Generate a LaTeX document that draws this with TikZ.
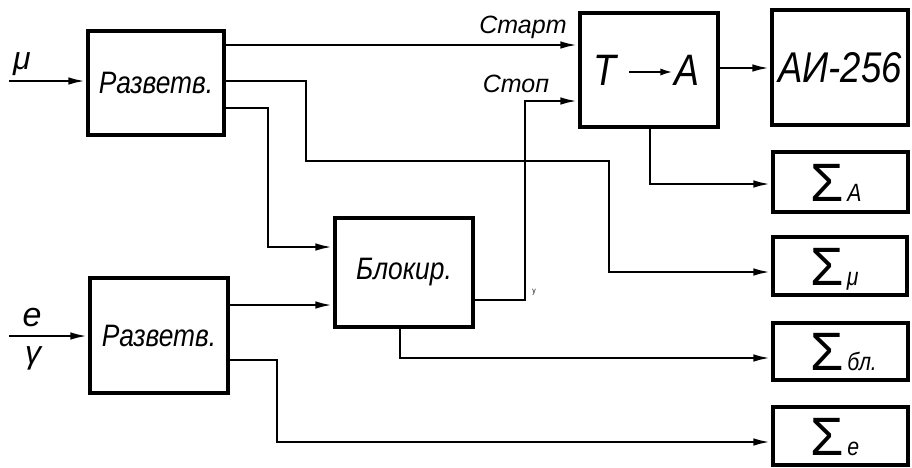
\documentclass[tikz,border=0pt]{standalone}
\usepackage{fontspec}
\setmainfont{Liberation Sans}[FakeStretch=0.85]
\newfontfamily\labelfont{Liberation Sans}
\usetikzlibrary{arrows.meta}

\tikzset{
  blockbox/.style={draw, line width=3.3pt, inner sep=0pt, rectangle,
    minimum width=#1, font=\fontsize{31}{34}\selectfont\itshape},
  wire/.style={line width=2.7pt},
  arr/.style={wire, -{Latex[length=18pt,width=7.5pt]}},
  lbl/.style={inner sep=0pt, font=\labelfont\fontsize{25}{28}\selectfont\itshape},
  sumtxt/.style={inner sep=0pt, font=\labelfont\fontsize{54}{58}\selectfont},
  subtxt/.style={inner sep=0pt, font=\fontsize{25}{28}\selectfont\itshape},
}

\begin{document}
\begin{tikzpicture}[x=1pt,y=-1pt]
\useasboundingbox (0,0) rectangle (912,467);

% functional blocks
\node[blockbox=136pt, minimum height=104pt] (r1) at (156,83) {Разветв.};
\node[blockbox=138pt, minimum height=115pt] (r2) at (159,335.5) {Разветв.};
\node[blockbox=138pt, minimum height=109pt] (blk) at (404,272.5) {Блокир.};
\node[blockbox=138pt, minimum height=114pt] (ta) at (649,70) {};
\node[blockbox=136pt, minimum height=115pt, font=\fontsize{43}{48}\selectfont\itshape] (ai) at (840,67.5) {АИ-256};

% time-to-amplitude converter label
\node[inner sep=0pt, font=\fontsize{44}{48}\selectfont\itshape] (tT) at (605,70) {Т};
\node[inner sep=0pt, font=\fontsize{44}{48}\selectfont\itshape] (tA) at (687,70) {А};
\coordinate (ts) at (629,72);
\draw[wire, -{Latex[length=14pt,width=7pt]}] (ts) -- (tA.west |- ts);

% counters
\node[blockbox=135pt, minimum height=60pt] (sa) at (840.5,182) {};
\node[blockbox=134pt, minimum height=58pt] (smu) at (840,266) {};
\node[blockbox=135pt, minimum height=57pt] (sbl) at (840.5,351.5) {};
\node[blockbox=135pt, minimum height=58pt] (se) at (840.5,436) {};

\foreach \b/\s in {sa/А, smu/μ, sbl/бл., se/e}{
  \node[sumtxt, anchor=base west] (\b S) at ([xshift=-30pt,yshift=-19pt]\b.center) {Σ};
  \node[subtxt, anchor=base west] (\b T) at ([xshift=3pt]\b S.base east) {\s};
}

% inputs
\coordinate (in1) at (9,81);
\coordinate (in2) at (9,336);
\draw[arr] (in1) -- (in1 -| r1.west);
\draw[arr] (in2) -- (in2 -| r2.west);
\node[lbl, font=\labelfont\fontsize{32}{34}\selectfont\itshape] (mu) at (22,64) {μ};
\node[lbl, font=\labelfont\fontsize{34}{36}\selectfont\itshape] (el) at (32,318) {e};
\node[lbl, font=\labelfont\fontsize{32}{34}\selectfont\itshape] (ga) at (33,358) {γ};

% start / stop
\draw[arr] (r1.east |- 0,45) -- (ta.west |- 0,45);
\node[lbl] (start) at (523,27) {Старт};
\draw[arr] (blk.east |- 0,300) -- (525,300) -- (525,101) -- (ta.west |- 0,101);
\node[lbl] (stop) at (516,84) {Стоп};
\node[inner sep=0pt, font=\fontsize{8}{9}\selectfont] (mark) at (534,292) {y};

% branch lines from the first splitter
\draw[arr] (r1.east |- 0,81) -- (306,81) -- (306,161) -- (609,161) -- (609,272) -- (smu.west |- 0,272);
\draw[arr] (r1.east |- 0,108) -- (268,108) -- (268,247) -- (blk.west |- 0,247);

% branch lines from the second splitter
\draw[arr] (r2.east |- 0,305) -- (blk.west |- 0,305);
\draw[arr] (r2.east |- 0,360) -- (277,360) -- (277,442) -- (se.west |- 0,442);

% outputs
\draw[arr] (ta.east |- 0,68) -- (ai.west |- 0,68);
\draw[arr] (ta.south -| 650,0) -- (650,184) -- (sa.west |- 0,184);
\draw[arr] (blk.south -| 400,0) -- (400,358) -- (sbl.west |- 0,358);
\end{tikzpicture}
\end{document}
